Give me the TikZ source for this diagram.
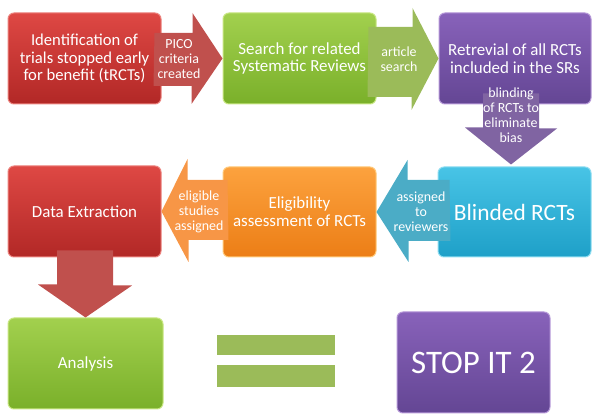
\documentclass[tikz,border=0pt]{standalone}
\usepackage{fontspec}
\setmainfont{Carlito}
\definecolor{redtop}{RGB}{222,72,68}
\definecolor{redbot}{RGB}{178,40,38}
\definecolor{redline}{RGB}{236,130,125}
\definecolor{greentop}{RGB}{162,208,78}
\definecolor{greenbot}{RGB}{122,176,42}
\definecolor{greenline}{RGB}{200,230,130}
\definecolor{purptop}{RGB}{136,98,186}
\definecolor{purpbot}{RGB}{100,70,148}
\definecolor{purpline}{RGB}{180,150,215}
\definecolor{cyantop}{RGB}{72,196,230}
\definecolor{cyanbot}{RGB}{30,160,200}
\definecolor{cyanline}{RGB}{140,220,240}
\definecolor{orangetop}{RGB}{252,162,62}
\definecolor{orangebot}{RGB}{236,126,22}
\definecolor{orangeline}{RGB}{255,200,120}
\definecolor{redarr}{RGB}{192,80,77}
\definecolor{greenarr}{RGB}{155,187,89}
\definecolor{purparr}{RGB}{128,100,162}
\definecolor{cyanarr}{RGB}{75,172,198}
\definecolor{orangearr}{RGB}{247,150,70}
\begin{document}
\begin{tikzpicture}[
  box/.style={rectangle,rounded corners=6bp,line width=1bp,text=white,align=center,
    minimum width=153bp,minimum height=91bp,inner sep=2bp,
    font=\fontsize{17}{18}\selectfont},
  redbox/.style={box,draw=redline,top color=redtop,bottom color=redbot},
  greenbox/.style={box,draw=greenline,top color=greentop,bottom color=greenbot},
  purplebox/.style={box,draw=purpline,top color=purptop,bottom color=purpbot},
  cyanbox/.style={box,draw=cyanline,top color=cyantop,bottom color=cyanbot},
  orangebox/.style={box,draw=orangeline,top color=orangetop,bottom color=orangebot},
  arrlbl/.style={text=white,align=center,inner sep=0pt,font=\fontsize{14}{15}\selectfont},
  eqbar/.style={rectangle,fill=greenarr,minimum width=118bp,inner sep=0pt}]
  \useasboundingbox (0,0) rectangle (600bp,418bp);
  % boxes, row by row
  \node (ident) at (84.5bp,359.5bp) [redbox,font=\fontsize{16.7}{17.5}\selectfont] {Identification of\\trials stopped early\\for benefit (tRCTs)};
  \node (search) at (299.5bp,359.5bp) [greenbox] {Search for related\\Systematic Reviews};
  \node (retr) at (515bp,359.5bp) [purplebox,minimum width=152bp] {Retrevial of all RCTs\\included in the SRs};
  \node (blind) at (514.5bp,206bp) [cyanbox,minimum height=90bp,font=\fontsize{23.5}{25}\selectfont] {Blinded RCTs};
  \node (elig) at (299.5bp,206bp) [orangebox,minimum height=90bp] {Eligibility\\assessment of RCTs};
  \node (extr) at (84.5bp,206.5bp) [redbox] {Data Extraction};
  \node (anal) at (85.5bp,54.5bp) [greenbox,minimum width=155bp] {Analysis};
  \node (stop) at (473.5bp,55.5bp) [purplebox,minimum height=101bp,font=\fontsize{33}{36}\selectfont] {STOP IT 2};
  \node (bartop) at (276bp,73bp) [eqbar,minimum height=20bp] {};
  \node (barbot) at (276bp,42bp) [eqbar,minimum height=22bp] {};
  % block arrows
  \fill [redarr] ([shift={(-7bp,25.5bp)}]ident.east) -- ++(38bp,0) -- ++(0,20bp) -- (search.west) -- ([shift={(-31bp,-45.5bp)}]search.west) -- ++(0,18bp) -- ++(-38bp,0) -- cycle;
  \fill [greenarr] ([shift={(-8bp,31.5bp)}]search.east) -- ++(44bp,0) -- ++(0,19bp) -- (retr.west) -- ([shift={(-27bp,-51.5bp)}]retr.west) -- ++(0,13bp) -- ++(-44bp,0) -- cycle;
  \fill [purparr] ([shift={(-32bp,11bp)}]retr.south) -- ++(56bp,0) -- ++(0,-35bp) -- ++(18bp,0) -- ([shift={(-3.5bp,2bp)}]blind.north) -- ([shift={(-49.5bp,39bp)}]blind.north) -- ++(18bp,0) -- cycle;
  \fill [cyanarr] ([shift={(12bp,32bp)}]blind.west) -- ++(-42bp,0) -- ++(0,20bp) -- (elig.east) -- ([shift={(32bp,-50bp)}]elig.east) -- ++(0,21bp) -- ++(42bp,0) -- cycle;
  \fill [orangearr] ([shift={(5bp,32bp)}]elig.west) -- ++(-40bp,0) -- ++(0,21bp) -- (extr.east) -- ([shift={(27bp,-50.5bp)}]extr.east) -- ++(0,22bp) -- ++(40bp,0) -- cycle;
  \fill [redarr] ([shift={(-27.5bp,7bp)}]extr.south) -- ++(56bp,0) -- ++(0,-35bp) -- ++(19bp,0) -- (anal.north) -- ([shift={(-47.5bp,33bp)}]anal.north) -- ++(19bp,0) -- cycle;
  % arrow labels
  \node (pico) at (179bp,359bp) [arrlbl] {PICO\\criteria\\created};
  \node (artsearch) at (399bp,359bp) [arrlbl] {article\\search};
  \node (blinding) at (511bp,303bp) [arrlbl] {blinding\\of RCTs to\\eliminate\\bias};
  \node (assrev) at (421bp,206bp) [arrlbl] {assigned\\to\\reviewers};
  \node (eligass) at (199bp,206bp) [arrlbl] {eligible\\studies\\assigned};
\end{tikzpicture}
\end{document}
